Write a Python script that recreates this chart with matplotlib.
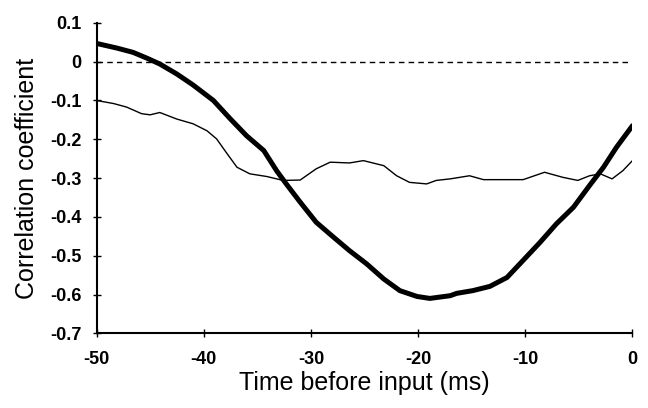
import matplotlib
matplotlib.use("Agg")
import matplotlib.pyplot as plt
import numpy as np

plt.rcParams['font.family'] = ['Liberation Sans', 'DejaVu Sans']
plt.rcParams['axes.unicode_minus'] = False

# thick curve
thick_t = [-50, -48.1, -46.6, -45.3, -44.1, -42.5, -41.0, -39.1, -37.5, -36.0,
           -34.4, -33.2, -32.3, -31.0, -29.5, -27.9, -26.4, -24.8, -23.2, -21.7,
           -20.1, -18.9, -17.0, -16.4, -14.9, -13.3, -11.7, -10.2, -8.6, -7.1,
           -5.5, -4.0, -2.7, -1.5, 0]
thick_r = [0.047, 0.035, 0.024, 0.009, -0.006, -0.032, -0.060, -0.100, -0.148, -0.191,
           -0.229, -0.281, -0.315, -0.362, -0.414, -0.452, -0.487, -0.521, -0.560, -0.590,
           -0.605, -0.610, -0.603, -0.597, -0.590, -0.579, -0.556, -0.512, -0.465, -0.418,
           -0.375, -0.319, -0.272, -0.221, -0.165]

# thin curve
thin_t = [-50, -48.4, -47.2, -45.8, -45.0, -44.1, -42.5, -41.0, -39.7, -38.8,
          -37.9, -36.9, -35.7, -34.1, -32.6, -31.0, -29.5, -28.2, -26.4, -25.1,
          -23.2, -22.0, -20.8, -19.2, -18.3, -17.0, -15.2, -13.9, -12.1, -10.2,
          -8.2, -6.5, -5.1, -4.0, -3.0, -1.9, -0.9, 0]
thin_r = [-0.10, -0.108, -0.117, -0.134, -0.137, -0.131, -0.148, -0.160, -0.178, -0.199,
          -0.234, -0.272, -0.289, -0.296, -0.306, -0.305, -0.276, -0.259, -0.261, -0.255,
          -0.268, -0.294, -0.311, -0.315, -0.306, -0.302, -0.294, -0.304, -0.304, -0.304,
          -0.285, -0.298, -0.306, -0.294, -0.289, -0.302, -0.281, -0.255]

xticks = [-50, -40, -30, -20, -10, 0]
yticks = [0.1, 0, -0.1, -0.2, -0.3, -0.4, -0.5, -0.6, -0.7]
ytick_labels = ["0.1", "0", "-0.1", "-0.2", "-0.3", "-0.4", "-0.5", "-0.6", "-0.7"]

fig = plt.figure(figsize=(6.48, 4.08), dpi=100)
ax = fig.add_axes([0.149, 0.183, 0.827, 0.761])

ax.plot([-50, 0], [0, 0], color="black", lw=1, linestyle=(0, (4, 3)))
ax.plot(thin_t, thin_r, color="black", lw=1.0, solid_joinstyle="round")
ax.plot(thick_t, thick_r, color="black", lw=3.6, solid_capstyle="round",
        solid_joinstyle="round")

ax.set_xlim(-50, 0)
ax.set_ylim(-0.7, 0.1)
ax.set_xticks(xticks)
ax.set_yticks(yticks)
ax.set_yticklabels(ytick_labels)
for s in ["top", "right"]:
    ax.spines[s].set_visible(False)
for s in ["left", "bottom"]:
    ax.spines[s].set_linewidth(1.5)
    ax.spines[s].set_clip_on(False)
ax.tick_params(direction="inout", length=6, width=1, labelsize=13, pad=8)
ax.tick_params(axis="x", pad=10)
for lab in ax.get_xticklabels() + ax.get_yticklabels():
    lab.set_fontweight("bold")

ax.set_xlabel("Time before input (ms)", fontsize=18, labelpad=2)
ax.set_ylabel("Correlation coefficient", fontsize=18, labelpad=8)

fig.savefig("out.png", dpi=100)
